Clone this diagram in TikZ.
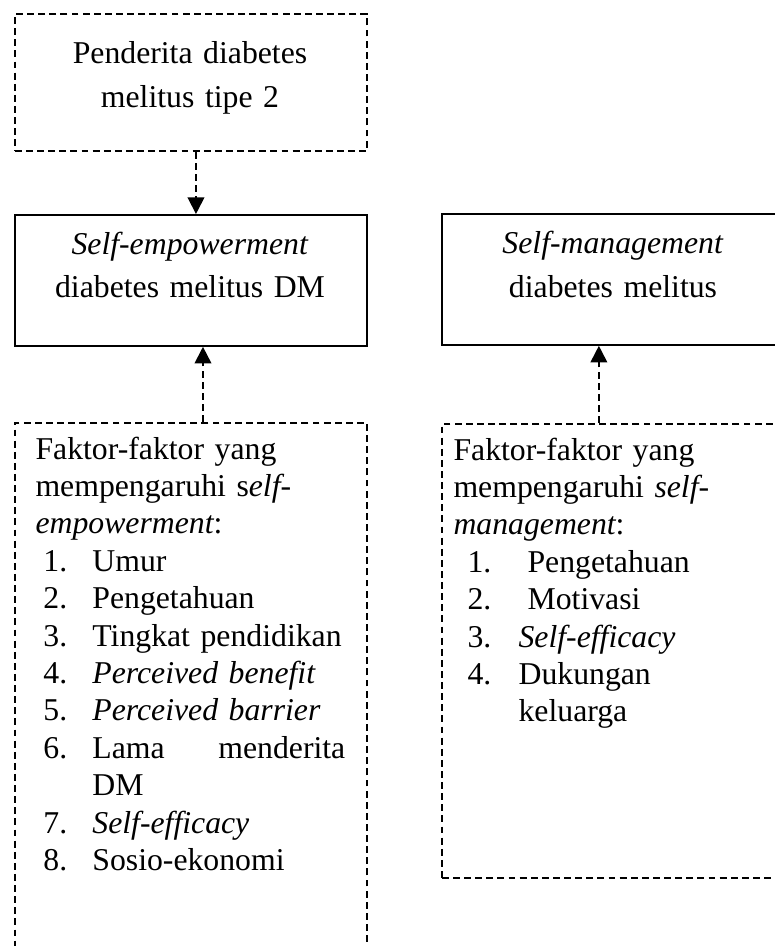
\documentclass[tikz,border=0pt]{standalone}
\usepackage{fontspec}
\setmainfont{Liberation Serif}
\usetikzlibrary{calc,positioning,arrows.meta}

\newcommand{\numL}[2]{\hspace*{3pt}\makebox[18.5pt][l]{#1}#2}
\newcommand{\numR}[3]{\hspace*{5.3pt}\makebox[#1][l]{#2}#3}

\tikzset{
	frame/.style={draw, line width=.7pt, inner sep=0pt, anchor=north west},
	dframe/.style={frame, dash pattern=on 2.6pt off 1.6pt},
	link/.style={line width=.7pt, dash pattern=on 2.6pt off 1.6pt, -{Triangle[length=6.3pt,width=6.3pt]}},
	head/.style={inner sep=0pt, align=center, text width=130pt, anchor=base},
	body/.style={inner sep=0pt, align=left, text width=124pt, anchor=base west, font=\fontsize{12}{14.14}\selectfont}
}

\begin{document}
\begin{tikzpicture}[x=.378pt, y=-.378pt]
		\useasboundingbox (0,0) rectangle (775,946);
		\clip (0,0) rectangle (775,946);
		% boxes
		\node[dframe, minimum width=133.1pt, minimum height=51.8pt] (patient) at (14,13) {};
		\node[frame, minimum width=133.1pt, minimum height=49.5pt] (empower) at (14,214) {};
		\node[dframe, minimum width=133.1pt, minimum height=218.5pt] (factorsE) at (14,422) {};
		\node[frame, minimum width=130pt, minimum height=49.5pt] (manage) at (441,213) {};
		\node[dframe, minimum width=130pt, minimum height=171.6pt] (factorsM) at (441,423) {};
		% titles
		\node[head, font=\fontsize{12}{17}\selectfont] (patientText) at (190,63) {Penderita diabetes\\ melitus tipe 2};
		\node[head, font=\fontsize{12}{16.3}\selectfont] (empowerText) at (190,254) {\textit{Self-empowerment}\\ diabetes melitus DM};
		\node[head, font=\fontsize{12}{16.8}\selectfont] (manageText) at (613,253) {\textit{Self-management}\\ diabetes melitus};
		% factor lists
		\node[body] (factorsEText) at (35,459) {Faktor-faktor yang\\
			mempengaruhi s{\itshape elf}-\\
			{\itshape empowerment}:\\
			\numL{1.}{Umur}\\
			\numL{2.}{Pengetahuan}\\
			\numL{3.}{Tingkat pendidikan}\\
			\numL{4.}{\textit{Perceived benefit}}\\
			\numL{5.}{\textit{Perceived barrier}}\\
			\numL{6.}{\makebox[95.6pt][s]{Lama\hfill menderita}}\\
			\hspace*{21.5pt}DM\\
			\numL{7.}{\textit{Self-efficacy}}\\
			\numL{8.}{Sosio-ekonomi}};
		\node[body] (factorsMText) at (453,460) {Faktor-faktor yang\\
			mempengaruhi {\itshape self}-\\
			{\itshape management}:\\
			\numR{22.7pt}{1.}{Pengetahuan}\\
			\numR{22.7pt}{2.}{Motivasi}\\
			\numR{19.3pt}{3.}{\textit{Self-efficacy}}\\
			\numR{19.3pt}{4.}{Dukungan}\\
			\hspace*{24.6pt}keluarga};
		% arrows
		\draw[link] ($(patient.south)+(5,0)$) -- ($(empower.north)+(5,0)$);
		\draw[link] ($(factorsE.north)+(12,0)$) -- ($(empower.south)+(12,0)$);
		\draw[link] ($(factorsM.north)+(-15,0)$) -- ($(manage.south)+(-15,0)$);
	\end{tikzpicture}
\end{document}
